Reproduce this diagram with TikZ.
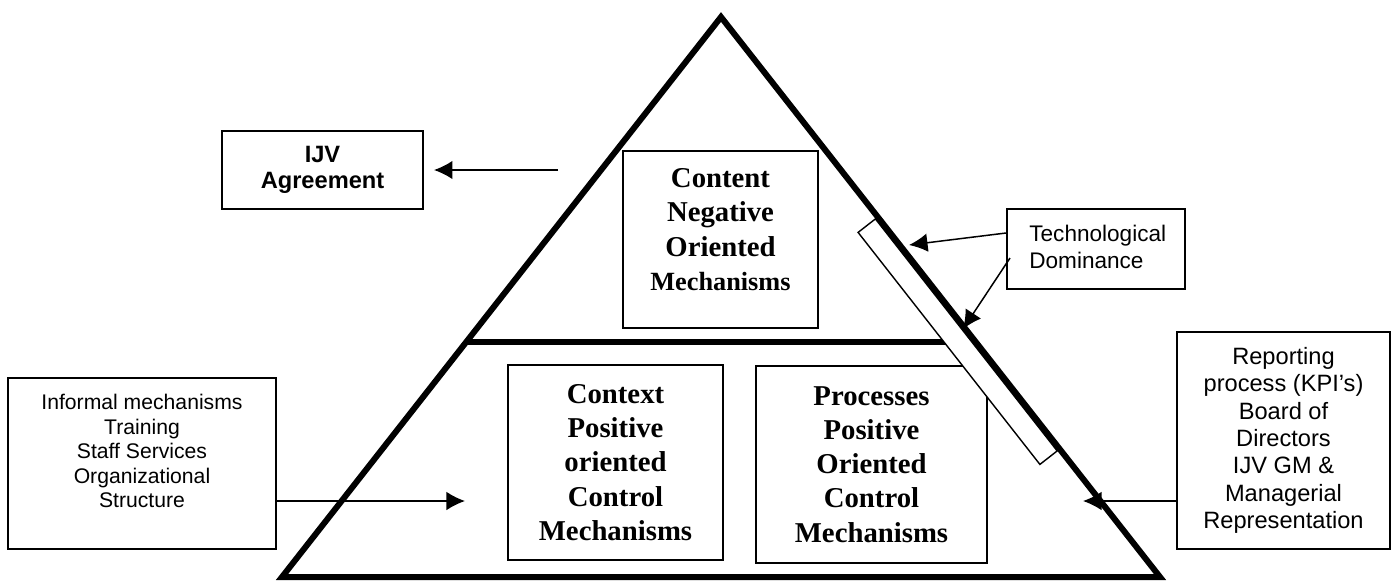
\documentclass[tikz,border=0pt]{standalone}
\usepackage{fontspec}
\setmainfont{Liberation Serif}
\setsansfont{Liberation Sans}
\usetikzlibrary{arrows.meta}
\begin{document}
\begin{tikzpicture}[x=0.567pt,y=-0.567pt,
  box/.style 2 args={draw, line width=1.1pt, minimum width=#1*0.567pt, minimum height=#2*0.567pt, inner sep=0pt},
  serif/.style={font=\bfseries\fontsize{16.3}{19.4}\selectfont, align=center, inner sep=0pt},
  sans/.style={font=\sffamily\fontsize{12}{13.9}\selectfont, align=center, inner sep=0pt},
  arr/.style={line width=0.85pt, -{Latex[length=10.5pt,width=10.5pt]}},
  heavy/.style={line width=3.4pt, line join=miter}]
\useasboundingbox (0,0) rectangle (1396,583);

% triangle corners
\coordinate (apex) at (721,17);
\coordinate (bl) at (282,577);
\coordinate (br) at (1160,577);
\coordinate (ml) at (466.2,342);
\coordinate (mr) at (975.8,342);

% boxes
\node[box={201}{78}, align=center, font=\sffamily\bfseries\fontsize{13.4}{15.1}\selectfont] (ijv) at (322.5,170) {IJV\\Agreement};
\node[box={195}{177}] (content) at (720.5,239.5) {};
\node[serif] (contenttxt) at (720.5,229.5) {Content\\Negative\\Oriented\\{\fontsize{14.9}{18}\selectfont Mechanisms}};
\node[box={215}{195}, serif] (context) at (615.5,462.5) {Context\\Positive\\oriented\\Control\\Mechanisms};
\node[box={231}{197}, serif] (process) at (871.5,464.5) {Processes\\Positive\\Oriented\\Control\\Mechanisms};
\node[box={268}{171}] (informal) at (142,463.5) {};
\node[sans] (informaltxt) at (142,451) {Informal mechanisms\\Training\\Staff Services\\Organizational\\Structure};
\node[box={213}{217}, sans, font=\sffamily\fontsize{13.4}{15.5}\selectfont] (report) at (1283.5,440.5) {Reporting\\process (KPI’s)\\Board of\\Directors\\IJV GM \&\\Managerial\\Representation};
\node[box={178}{80}] (tech) at (1096,249) {};
\node[sans, anchor=west, align=left, font=\sffamily\fontsize{12.8}{15.3}\selectfont] (techtxt) at (1029,246.5) {Technological\\Dominance};

% arrows
\coordinate (ijvfrom) at (558,170);
\draw[arr] (ijvfrom) -- ([xshift=10*0.567pt]ijv.east);
\coordinate (inftip) at (465,501);
\draw[arr] (informal.east |- inftip) -- (inftip);
\coordinate (reptip) at (1083,501);
\draw[arr] (report.west |- reptip) -- (reptip);
\coordinate (t1s) at (1007,233);
\coordinate (t1) at (909,245);
\coordinate (t2s) at (1010,258);
\coordinate (t2) at (963,329);
\draw[arr] (tech.west |- t1s) -- (t1);
\draw[arr] (t2s) -- (t2);

% middle line
\draw[heavy] (ml) -- (mr);
% slanted strip
\draw[line width=0.8pt, fill=white] (875.4,218.9) -- (1057.2,450.9) -- (1039.9,464.4) -- (858.1,232.4) -- cycle;
% triangle
\draw[heavy] (apex) -- (bl) -- (br) -- cycle;
\end{tikzpicture}
\end{document}
